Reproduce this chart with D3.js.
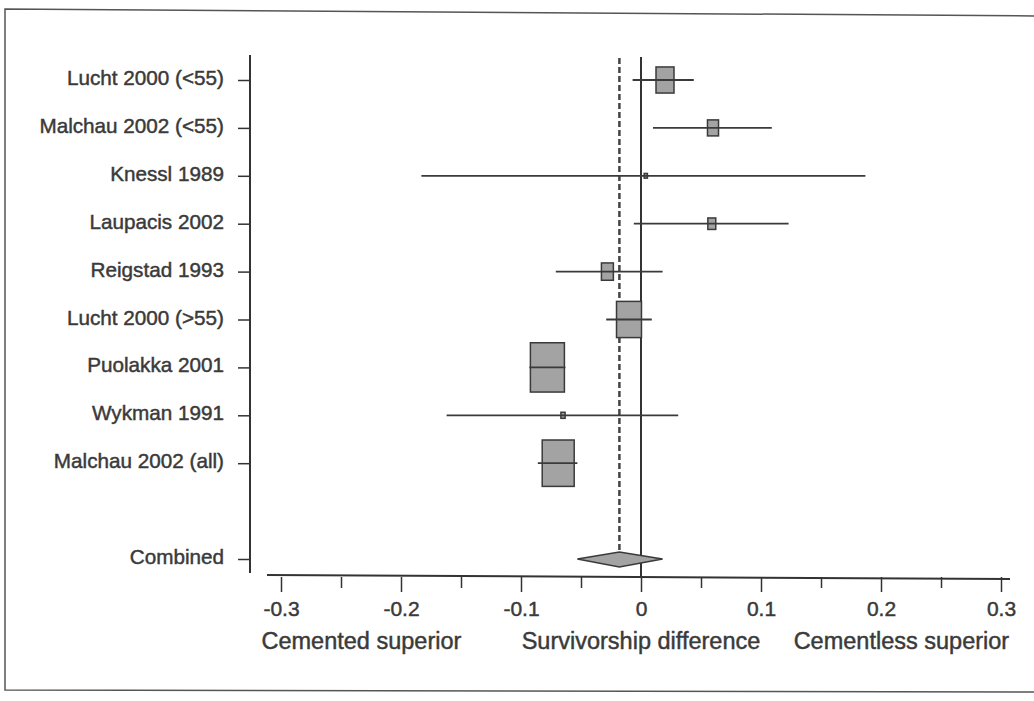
<!DOCTYPE html>
<html>
<head>
<meta charset="utf-8">
<script src="https://cdn.jsdelivr.net/npm/d3@7"></script>
<style>
  body { margin: 0; background: #fff; }
  svg text { font-family: "Liberation Sans", Arial, sans-serif; fill: #3a3a3a; stroke: #3a3a3a; stroke-width: 0.45px; }
</style>
</head>
<body>
<svg id="chart" width="1034" height="701"></svg>
<script>
// Study rows (top to bottom), blank slot before the combined row
const studies = ['Lucht 2000 (<55)', 'Malchau 2002 (<55)', 'Knessl 1989', 'Laupacis 2002',
    'Reigstad 1993', 'Lucht 2000 (>55)', 'Puolakka 2001', 'Wykman 1991', 'Malchau 2002 (all)'];
const estimates = [0.020, 0.060, 0.004, 0.059, -0.028, -0.010, -0.078, -0.065, -0.069];
const lower = [-0.007, 0.010, -0.183, -0.006, -0.071, -0.029, -0.093, -0.162, -0.086];
const upper = [0.044, 0.109, 0.187, 0.123, 0.018, 0.009, -0.063, 0.031, -0.053];
const weights = [9.3, 3.5, 0.3, 1.8, 4.1, 17.9, 33.2, 0.5, 29.4];

const combinedLabel = 'Combined';
const combined = { est: -0.018, lo: -0.053, hi: 0.018 };

const xTicks = [-0.3, -0.2, -0.1, 0, 0.1, 0.2, 0.3];
const xMinorTicks = [-0.25, -0.15, -0.05, 0.05, 0.15, 0.25];
const xNotes = ['Cemented superior', 'Survivorship difference', 'Cementless superior'];
const xNoteAt = [-0.233, 0, 0.217];

const svg = d3.select('#chart');
const ink = '#333';

// Outer frame of the scanned figure
svg.append('path')
    .attr('d', 'M1040,16 L5,9 L5,690 L1040,692')
    .attr('fill', 'none')
    .attr('stroke', '#555')
    .attr('stroke-width', 1.5);

// Scales
const x = d3.scaleLinear().domain([-0.3, 0.3]).range([281, 1001]);
const rows = studies.concat([' ', combinedLabel]);
const y = d3.scalePoint().domain(rows).range([80, 559]);
const boxW = d3.scaleSqrt().domain([0, d3.max(weights)]).range([0, 34]);

const axisY = 577;

// X axis
const xAxis = svg.append('g').attr('transform', 'translate(0,' + axisY + ')');
xAxis.call(d3.axisBottom(x).tickValues(xTicks).tickSize(15).tickPadding(9)
    .tickFormat(d => d === 0 ? '0' : String(d)));
xAxis.select('.domain').remove();
xAxis.selectAll('line').attr('stroke', ink).attr('stroke-width', 1.5);
xAxis.selectAll('text').attr('font-size', 21).attr('fill', '#3a3a3a');

const xMinor = svg.append('g').attr('transform', 'translate(0,' + axisY + ')');
xMinor.call(d3.axisBottom(x).tickValues(xMinorTicks).tickSize(11).tickFormat(''));
xMinor.select('.domain').remove();
xMinor.selectAll('line').attr('stroke', ink).attr('stroke-width', 1.5);

svg.append('line')
    .attr('x1', x(-0.3) - 14).attr('x2', x(0.3) + 9)
    .attr('y1', axisY - 2).attr('y2', axisY + 2)
    .attr('stroke', ink).attr('stroke-width', 2);

// Axis notes
svg.append('g').selectAll('text')
    .data(xNotes)
    .join('text')
    .attr('x', (d, i) => x(xNoteAt[i]))
    .attr('y', 649)
    .attr('text-anchor', 'middle')
    .attr('font-size', 23.5)
    .text(d => d);

// Y axis
const yAxis = svg.append('g').attr('transform', 'translate(250,0)');
yAxis.call(d3.axisLeft(y).tickValues(rows.filter(d => d.trim() !== '')).tickSize(12).tickPadding(14));
yAxis.select('.domain').remove();
yAxis.selectAll('line').attr('stroke', ink).attr('stroke-width', 1.5);
yAxis.selectAll('text').attr('font-size', 20.7).attr('dy', '0.22em').attr('fill', '#3a3a3a');

svg.append('line')
    .attr('x1', 250).attr('x2', 250)
    .attr('y1', y(studies[0]) - 25).attr('y2', y(combinedLabel) + 14)
    .attr('stroke', ink).attr('stroke-width', 2);

// Zero line
svg.append('line')
    .attr('x1', x(0)).attr('x2', x(0))
    .attr('y1', y(studies[0]) - 23).attr('y2', axisY)
    .attr('stroke', ink).attr('stroke-width', 2);

// Pooled estimate (dashed)
svg.append('line')
    .attr('x1', x(combined.est)).attr('x2', x(combined.est))
    .attr('y1', y(studies[0]) - 22).attr('y2', y(combinedLabel) - 6)
    .attr('stroke', '#444').attr('stroke-width', 2.5)
    .attr('stroke-dasharray', '6,3');

// Study boxes and confidence intervals
const marks = svg.append('g');
studies.forEach((s, i) => {
    const w = Math.max(boxW(weights[i]), 3);
    const h = w * 1.45;
    marks.append('rect')
        .attr('x', x(estimates[i]) - w / 2)
        .attr('y', y(s) - h / 2)
        .attr('width', w)
        .attr('height', h)
        .attr('fill', '#a3a3a3')
        .attr('stroke', '#3a3a3a')
        .attr('stroke-width', 1.5);
    marks.append('line')
        .attr('x1', x(lower[i])).attr('x2', x(upper[i]))
        .attr('y1', y(s)).attr('y2', y(s))
        .attr('stroke', '#3a3a3a')
        .attr('stroke-width', 1.8);
});

// Combined diamond
const cy = y(combinedLabel);
svg.append('path')
    .attr('d', 'M' + x(combined.lo) + ',' + cy +
        'L' + x(combined.est) + ',' + (cy - 7) +
        'L' + x(combined.hi) + ',' + cy +
        'L' + x(combined.est) + ',' + (cy + 8) + 'Z')
    .attr('fill', '#a3a3a3')
    .attr('stroke', '#3a3a3a')
    .attr('stroke-width', 1.5);
</script>
</body>
</html>
